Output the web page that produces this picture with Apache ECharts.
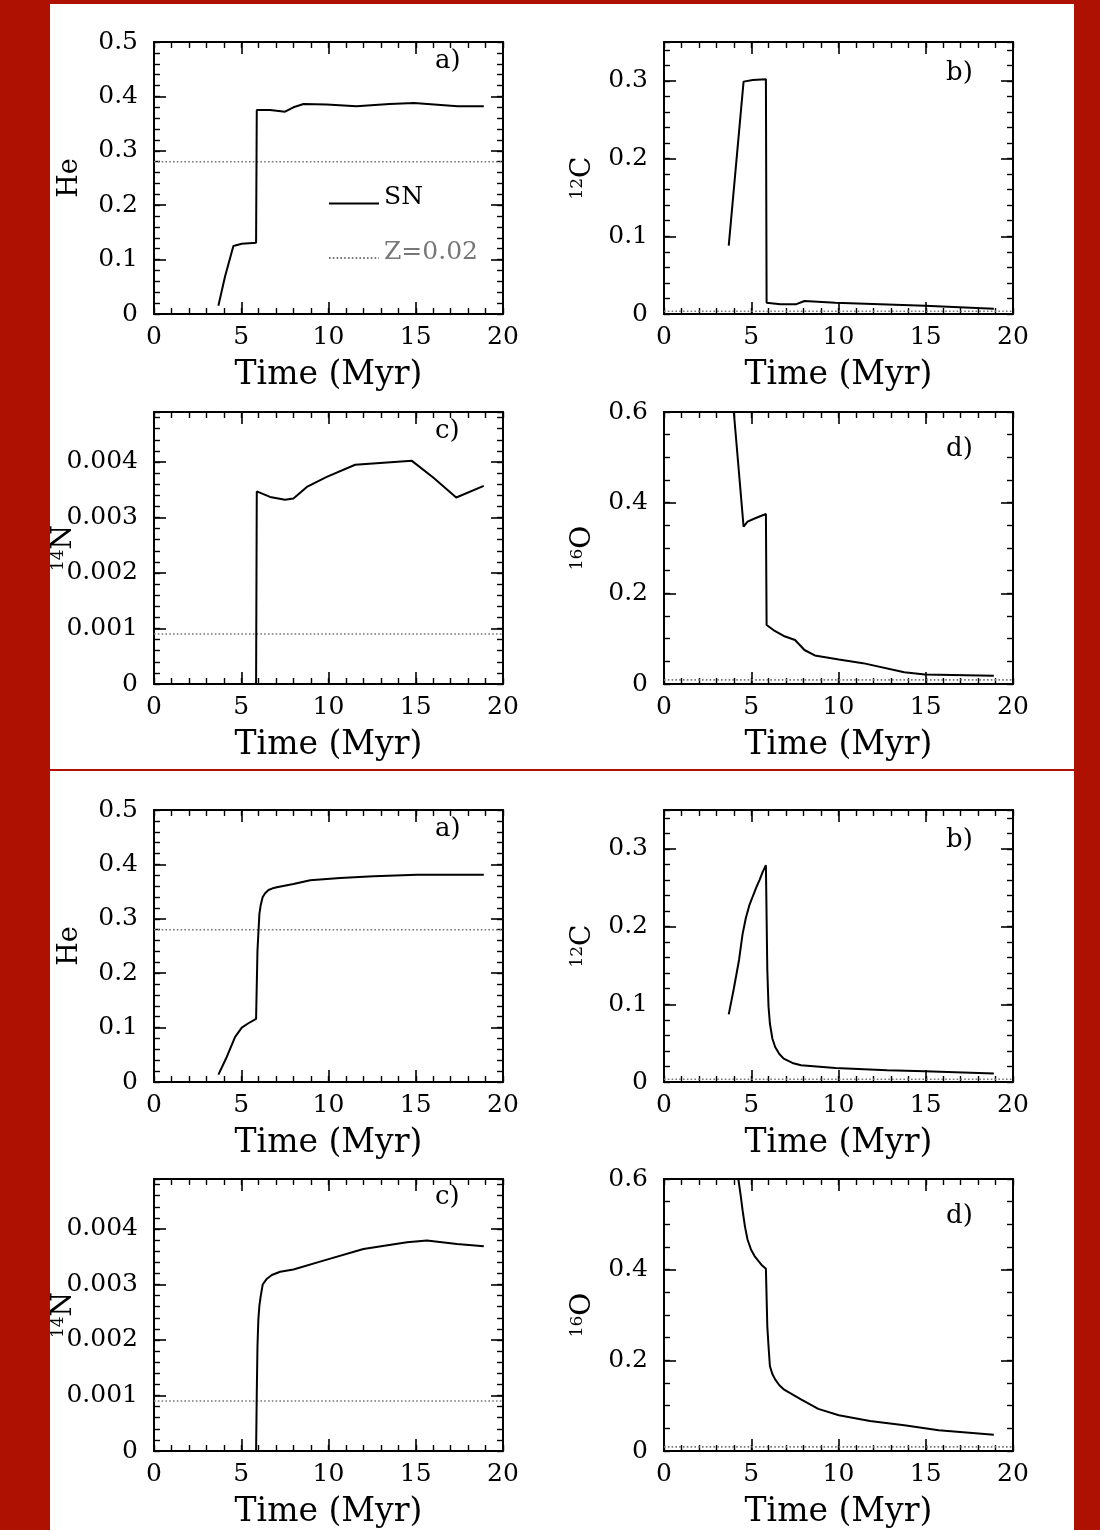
<!DOCTYPE html>
<html><head><meta charset="utf-8">
<script src="https://cdn.jsdelivr.net/npm/echarts@6/dist/echarts.min.js"></script>
<style>
html,body{margin:0;padding:0;background:#fff;}
#wrap{position:relative;width:1100px;height:1530px;overflow:hidden;background:#fff;}
#chart{position:absolute;left:0;top:0;width:1100px;height:1530px;}
.red{position:absolute;background:#AE1002;z-index:10;}
</style></head><body>
<div id="wrap">
<div id="chart"></div>
<div class="red" style="left:0;top:0;width:50px;height:1530px"></div>
<div class="red" style="left:1074px;top:0;width:26px;height:1530px"></div>
<div class="red" style="left:0;top:0;width:1100px;height:4px"></div>
<div class="red" style="left:50px;top:769px;width:1024px;height:2px"></div>
</div>
<script>
// ---------- tick labels ----------
const timeTicks = ['0', '5', '10', '15', '20'];
const heTicks = ['0', '0.1', '0.2', '0.3', '0.4', '0.5'];
const c12Ticks = ['0', '0.1', '0.2', '0.3'];
const n14Ticks = ['0', '0.001', '0.002', '0.003', '0.004'];
const o16Ticks = ['0', '0.2', '0.4', '0.6'];

// ---------- reference (Z=0.02) abundances: He, 12C, 14N, 16O ----------
const solarZ002 = [0.28, 0.0035, 0.0009, 0.009];

// ---------- upper set (SN) ----------
const snHeTime = [3.69, 4.07, 4.55, 5.03, 5.85, 5.89, 6.65, 7.51, 7.99, 8.57, 9.9, 11.6, 13.5, 14.9, 17.4, 18.9];
const snHeVal  = [0.015, 0.069, 0.125, 0.129, 0.131, 0.375, 0.375, 0.372, 0.380, 0.386, 0.385, 0.382, 0.386, 0.388, 0.382, 0.382];

const snCTime = [3.71, 4.56, 5.09, 5.84, 5.88, 6.67, 7.55, 8.05, 9.82, 14.95, 18.9];
const snCVal  = [0.088, 0.299, 0.301, 0.302, 0.0146, 0.0124, 0.0124, 0.0167, 0.0146, 0.0107, 0.0069];

const snNTime = [4.36, 5.85, 5.89, 6.65, 7.51, 7.99, 8.76, 9.9, 11.53, 14.78, 16.0, 17.32, 18.9];
const snNVal  = [0, 0, 0.00347, 0.00337, 0.00332, 0.00334, 0.00355, 0.00373, 0.00395, 0.00402, 0.00372, 0.00336, 0.00357];

const snOTime = [3.7, 4.0, 4.56, 4.79, 5.19, 5.84, 5.88, 6.27, 6.86, 7.51, 8.05, 8.64, 10.02, 11.4, 13.77, 14.95, 18.9];
const snOVal  = [0.735, 0.6, 0.347, 0.358, 0.365, 0.375, 0.130, 0.119, 0.106, 0.097, 0.075, 0.063, 0.054, 0.046, 0.026, 0.021, 0.018];

// ---------- lower set ----------
const lowHeTime = [3.69, 4.17, 4.65, 5.03, 5.41, 5.85, 5.93, 6.04, 6.12, 6.23, 6.37, 6.56, 6.8, 7.04, 7.99, 8.95, 10.67, 12.58, 15.07, 18.9];
const lowHeVal  = [0.0135, 0.046, 0.083, 0.100, 0.108, 0.116, 0.242, 0.309, 0.326, 0.340, 0.347, 0.353, 0.356, 0.358, 0.364, 0.371, 0.375, 0.378, 0.381, 0.381];

const lowCTime = [3.71, 4.0, 4.30, 4.5, 4.69, 4.9, 5.09, 5.3, 5.48, 5.65, 5.84, 5.92, 5.99, 6.07, 6.21, 6.37, 6.61, 6.86, 7.36, 7.85, 9.82, 12.78, 14.95, 18.9];
const lowCVal  = [0.087, 0.12, 0.157, 0.19, 0.211, 0.228, 0.239, 0.251, 0.260, 0.270, 0.279, 0.144, 0.097, 0.075, 0.056, 0.045, 0.036, 0.030, 0.0245, 0.0215, 0.018, 0.015, 0.0138, 0.0108];

const lowNTime = [4.93, 5.85, 5.89, 5.93, 5.98, 6.04, 6.12, 6.23, 6.46, 6.75, 7.23, 7.99, 9.71, 12.0, 14.5, 15.64, 17.36, 18.9];
const lowNVal  = [0, 0, 0.00105, 0.00189, 0.00237, 0.00262, 0.0028, 0.0030, 0.0031, 0.00317, 0.00323, 0.00327, 0.00343, 0.00364, 0.00376, 0.00379, 0.00373, 0.00369];

const lowOTime = [3.7, 4.0, 4.26, 4.40, 4.50, 4.64, 4.79, 4.99, 5.19, 5.58, 5.84, 5.92, 5.99, 6.07, 6.21, 6.37, 6.61, 6.86, 7.85, 8.84, 10.02, 11.8, 13.77, 15.74, 18.9];
const lowOVal  = [0.78, 0.68, 0.6, 0.562, 0.532, 0.495, 0.466, 0.444, 0.430, 0.411, 0.402, 0.275, 0.231, 0.187, 0.170, 0.158, 0.145, 0.136, 0.114, 0.093, 0.079, 0.066, 0.057, 0.046, 0.036];

// ---------- layout ----------
const FONT = 'DejaVu Serif';
const W = 349, H = 272;
const panels = [
  {left:154, top:42,   t:snHeTime,  v:snHeVal,  ref:solarZ002[0], ticks:heTicks,  max:0.5,    major:0.1,   minor:0.02,   name:'He',        gap:71, tag:'a)', tagL:435, tagT:48},
  {left:664, top:42,   t:snCTime,   v:snCVal,   ref:solarZ002[1], ticks:c12Ticks, max:0.35,   major:0.1,   minor:0.02,   name:'{s|12}{b|C}', gap:67, tag:'b)', tagL:946, tagT:60},
  {left:154, top:412,  t:snNTime,   v:snNVal,   ref:solarZ002[2], ticks:n14Ticks, max:0.0049, major:0.001, minor:0.0002, name:'{s|14}{b|N}', gap:76, tag:'c)', tagL:435, tagT:418},
  {left:664, top:412,  t:snOTime,   v:snOVal,   ref:solarZ002[3], ticks:o16Ticks, max:0.6,    major:0.2,   minor:0.05,   name:'{s|16}{b|O}', gap:67, tag:'d)', tagL:946, tagT:436},
  {left:154, top:810,  t:lowHeTime, v:lowHeVal, ref:solarZ002[0], ticks:heTicks,  max:0.5,    major:0.1,   minor:0.02,   name:'He',        gap:71, tag:'a)', tagL:435, tagT:816},
  {left:664, top:810,  t:lowCTime,  v:lowCVal,  ref:solarZ002[1], ticks:c12Ticks, max:0.35,   major:0.1,   minor:0.02,   name:'{s|12}{b|C}', gap:67, tag:'b)', tagL:946, tagT:827},
  {left:154, top:1179, t:lowNTime,  v:lowNVal,  ref:solarZ002[2], ticks:n14Ticks, max:0.0049, major:0.001, minor:0.0002, name:'{s|14}{b|N}', gap:76, tag:'c)', tagL:435, tagT:1184},
  {left:664, top:1179, t:lowOTime,  v:lowOVal,  ref:solarZ002[3], ticks:o16Ticks, max:0.6,    major:0.2,   minor:0.05,   name:'{s|16}{b|O}', gap:67, tag:'d)', tagL:946, tagT:1203}
];

function fmt(labels, span) {
  const vals = labels.map(Number);
  return function (v) {
    const i = vals.findIndex(t => Math.abs(t - v) < span * 1e-6);
    return i >= 0 ? labels[i] : '';
  };
}

const option = {
  animation: false,
  backgroundColor: 'transparent',
  grid: [], xAxis: [], yAxis: [], series: [], title: [],
  legend: {
    show: true, left: 328, top: 185, orient: 'vertical', padding: 0,
    itemWidth: 50, itemHeight: 14, itemGap: 21, selectedMode: false,
    itemStyle: {opacity: 0},
    formatter: name => '{t|' + name + '}\n{e| }',
    textStyle: {fontFamily: FONT, fontSize: 25, color: '#000',
      rich: {t: {fontFamily: FONT, fontSize: 25, lineHeight: 28},
             e: {fontFamily: FONT, fontSize: 2, lineHeight: 12}}},
    data: [{name: 'SN', textStyle: {color: '#000'}}, {name: 'Z=0.02', textStyle: {color: '#777'}}]
  }
};

const axLine = {show: true, onZero: false, lineStyle: {color: '#000', width: 2}};
const noLine = {show: false, onZero: false};
const tickMaj = {show: true, inside: true, length: 12, lineStyle: {color: '#000', width: 1.6}};
const tickMin = {show: true, inside: true, length: 6, lineStyle: {color: '#000', width: 1.4}};
const noLabel = {show: false};
const noSplit = {show: false};

panels.forEach((p, g) => {
  option.grid.push({left: p.left, top: p.top, width: W, height: H, outerBoundsMode: 'none', containLabel: false});
  const xi = option.xAxis.length, yi = option.yAxis.length;
  option.xAxis.push(
    {gridIndex: g, type: 'value', position: 'bottom', min: 0, max: 20, interval: 5,
     axisLine: axLine, axisTick: tickMaj, splitLine: noSplit,
     axisLabel: {show: true, margin: 11, color: '#000', fontFamily: FONT, fontSize: 25, formatter: fmt(timeTicks, 20)},
     name: 'Time (Myr)', nameLocation: 'middle', nameGap: 45, nameMoveOverlap: false,
     nameTextStyle: {color: '#000', fontFamily: FONT, fontSize: 33}},
    {gridIndex: g, type: 'value', position: 'top', min: 0, max: 20, interval: 5,
     axisLine: axLine, axisTick: tickMaj, axisLabel: noLabel, splitLine: noSplit},
    {gridIndex: g, type: 'value', position: 'bottom', min: 0, max: 20, interval: 1,
     axisLine: noLine, axisTick: tickMin, axisLabel: noLabel, splitLine: noSplit},
    {gridIndex: g, type: 'value', position: 'top', min: 0, max: 20, interval: 1,
     axisLine: noLine, axisTick: tickMin, axisLabel: noLabel, splitLine: noSplit}
  );
  option.yAxis.push(
    {gridIndex: g, type: 'value', position: 'left', min: 0, max: p.max, interval: p.major,
     axisLine: axLine, axisTick: tickMaj, splitLine: noSplit,
     axisLabel: {show: true, margin: 16, color: '#000', fontFamily: FONT, fontSize: 25, formatter: fmt(p.ticks, p.max)},
     name: p.name, nameLocation: 'middle', nameGap: p.gap, nameMoveOverlap: false,
     nameTextStyle: {color: '#000', fontFamily: FONT, fontSize: 27,
       rich: {s: {fontFamily: FONT, fontSize: 17, verticalAlign: 'top', color: '#000'},
              b: {fontFamily: FONT, fontSize: 28, color: '#000'}}}},
    {gridIndex: g, type: 'value', position: 'right', min: 0, max: p.max, interval: p.major,
     axisLine: axLine, axisTick: tickMaj, axisLabel: noLabel, splitLine: noSplit},
    {gridIndex: g, type: 'value', position: 'left', min: 0, max: p.max, interval: p.minor,
     axisLine: noLine, axisTick: tickMin, axisLabel: noLabel, splitLine: noSplit},
    {gridIndex: g, type: 'value', position: 'right', min: 0, max: p.max, interval: p.minor,
     axisLine: noLine, axisTick: tickMin, axisLabel: noLabel, splitLine: noSplit}
  );
  option.series.push(
    {type: 'line', name: g === 0 ? 'Z=0.02' : 'ref' + g, xAxisIndex: xi, yAxisIndex: yi,
     data: [[0, p.ref], [20, p.ref]], symbol: 'none', showSymbol: false, clip: true, silent: true,
     lineStyle: {color: '#777', width: 1.6, type: [1.6, 2.2]}, itemStyle: {color: '#777'}, z: 2},
    {type: 'line', name: g === 0 ? 'SN' : 'model' + g, xAxisIndex: xi, yAxisIndex: yi,
     data: p.t.map((x, i) => [x, p.v[i]]), symbol: 'none', showSymbol: false, clip: true, silent: true,
     lineStyle: {color: '#000', width: 2}, itemStyle: {color: '#000'}, z: 3}
  );
  option.title.push({text: p.tag, left: p.tagL, top: p.tagT, padding: 0,
    textStyle: {fontFamily: FONT, fontSize: 26, fontWeight: 'normal', color: '#000'}});
});

const chart = echarts.init(document.getElementById('chart'), null, {renderer: 'canvas'});
chart.setOption(option);
</script>
</body></html>
